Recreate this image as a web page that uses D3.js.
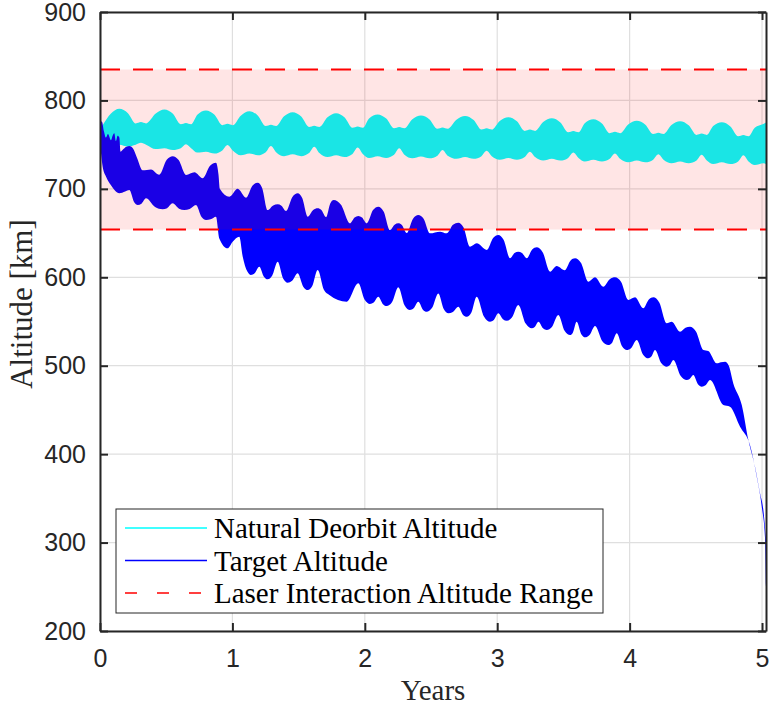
<!DOCTYPE html>
<html>
<head>
<meta charset="utf-8">
<script src="https://cdn.jsdelivr.net/npm/d3@7"></script>
<style>
  body { margin: 0; background: #fff; }
  svg { display: block; }
</style>
</head>
<body>
<div id="chart"></div>
<script>
// Natural deorbit altitude (cyan) - envelope
const cyanYears = [0.02, 0.081, 0.146, 0.211, 0.270, 0.309, 0.348, 0.421,
  0.486, 0.551, 0.610, 0.649, 0.688, 0.735,
  0.800, 0.865, 0.924, 0.963, 1.002, 1.063,
  1.128, 1.193, 1.252, 1.291, 1.330, 1.390,
  1.455, 1.520, 1.579, 1.618, 1.657, 1.718,
  1.783, 1.848, 1.907, 1.946, 1.985, 2.032,
  2.097, 2.162, 2.221, 2.260, 2.299, 2.359,
  2.424, 2.489, 2.548, 2.587, 2.626, 2.692,
  2.757, 2.822, 2.881, 2.920, 2.959, 3.019,
  3.084, 3.149, 3.208, 3.247, 3.286, 3.347,
  3.412, 3.477, 3.536, 3.575, 3.614, 3.661,
  3.726, 3.791, 3.850, 3.889, 3.928, 3.989,
  4.054, 4.119, 4.178, 4.217, 4.256, 4.316,
  4.381, 4.446, 4.505, 4.544, 4.583, 4.631,
  4.696, 4.761, 4.820, 4.859, 4.898, 4.945,
  5.010, 5.030];
const cyanUpper = [772, 785, 790.6, 785.6, 774, 775.5, 774, 785.1,
  789.8, 784.8, 773, 774.5, 773, 783.7,
  788.7, 783.7, 772, 773.5, 772, 782.8,
  787.9, 782.8, 771, 772.5, 771, 782,
  786.7, 781.7, 770, 771.5, 770, 780.9,
  785.6, 780.6, 769, 770.5, 769, 779.6,
  784.2, 779.5, 768.5, 770, 768.5, 778.7,
  783, 778.5, 768, 769.5, 768, 778.1,
  782.4, 777.8, 767, 768.5, 767, 776.8,
  781, 776.4, 765.5, 767, 765.5, 775.5,
  779.8, 775.1, 764, 765.5, 764, 774.3,
  778.7, 774, 763, 764.5, 763, 772.9,
  777.1, 772.6, 762, 763.5, 762, 772.1,
  776.4, 771.8, 761, 762.5, 761, 771,
  775.3, 770.6, 759.5, 761, 759.5, 769.2,
  773.4, 775];
const cyanLower = [758, 750, 750, 748, 750, 752, 750, 745,
  746, 744, 746, 750.4, 746, 741,
  742, 740, 743.5, 749.6, 743.5, 738,
  740, 738, 741.5, 748.5, 741.5, 737,
  739, 737, 740.5, 747.7, 740.5, 736,
  738, 736, 739.5, 746.8, 739.5, 735,
  737, 735, 738.5, 745.9, 738.5, 734.5,
  736.5, 734.5, 737.5, 744, 737.5, 734,
  736, 734, 737, 743, 737, 733,
  735, 733, 736, 742, 736, 732,
  734, 732, 735, 741, 735, 731,
  733, 731, 734, 740, 734, 730,
  732, 730, 733, 739, 733, 729,
  731, 729, 732, 738.5, 732, 728,
  730, 728, 731, 738, 731, 727,
  729, 728];

// Target altitude (blue) - upper and lower envelope
const blueUpperYears = [0, 0.015, 0.030, 0.045, 0.060, 0.083, 0.095, 0.108, 0.120, 0.133,
  0.146, 0.155, 0.170, 0.199, 0.222, 0.248, 0.280, 0.322, 0.385, 0.448,
  0.504, 0.549, 0.594, 0.650, 0.713, 0.776, 0.831, 0.876, 0.895, 0.905,
  0.977, 1.040, 1.103, 1.151, 1.191, 1.225, 1.266, 1.308, 1.342, 1.370,
  1.405, 1.453, 1.493, 1.527, 1.569, 1.610, 1.644, 1.672, 1.707, 1.739,
  1.765, 1.820, 1.888, 1.923, 1.951, 1.979, 2.014, 2.062, 2.102, 2.142,
  2.190, 2.225, 2.253, 2.281, 2.316, 2.364, 2.404, 2.444, 2.492, 2.568,
  2.618, 2.666, 2.706, 2.746, 2.795, 2.845, 2.921, 2.969, 3.008, 3.048,
  3.097, 3.131, 3.159, 3.187, 3.223, 3.264, 3.298, 3.343, 3.399, 3.449,
  3.510, 3.553, 3.588, 3.633, 3.688, 3.739, 3.801, 3.850, 3.890, 3.935,
  3.990, 4.041, 4.103, 4.145, 4.179, 4.224, 4.280, 4.318, 4.381, 4.422,
  4.456, 4.501, 4.557, 4.594, 4.658, 4.690, 4.721, 4.749, 4.783, 4.847,
  4.897, 4.947, 4.985, 5.010, 5.030];
const blueUpper = [776.7, 776, 765, 758, 762, 755, 760, 763, 754, 760,
  758, 742, 744, 747.6, 748.5, 745.8, 735, 721, 722, 716,
  732.8, 737, 732.7, 715.7, 718.7, 712, 726, 729.6, 716, 700,
  691, 700, 690, 703.6, 707, 700.8, 676, 681.2, 682.5, 681,
  675, 690.9, 694.9, 689.6, 668.5, 676.1, 678, 676, 668, 683.5,
  687.4, 682.1, 661, 667.6, 669.3, 667.6, 661, 676, 679.8, 674.5,
  653.5, 659.5, 661, 658.8, 650, 666.3, 670.4, 666.3, 649.7, 651.6,
  649.7, 659.3, 661.7, 656.3, 634.6, 638.4, 630.9, 644.4, 647.8, 642.5,
  621.5, 627.5, 629, 627.5, 621.5, 631.4, 633.9, 628.4, 606.4, 612.8,
  608, 618.8, 621.5, 616.2, 595, 600, 589.4, 597.9, 600, 594.9,
  574.3, 577.3, 564.9, 574.8, 577.3, 571.4, 548, 549.8, 538.5, 543,
  544.1, 538.8, 517.8, 516.7, 502.7, 504, 504.6, 500, 480, 455.6,
  416, 385.8, 355.7, 336.8, 302.9];
const blueLowerYears = [0, 0.008, 0.020, 0.045, 0.083, 0.146, 0.190, 0.222, 0.257, 0.285,
  0.313, 0.347, 0.416, 0.473, 0.507, 0.549, 0.597, 0.637, 0.677, 0.725,
  0.767, 0.801, 0.835, 0.876, 0.901, 0.964, 1.002, 1.052, 1.078, 1.112,
  1.140, 1.168, 1.203, 1.238, 1.266, 1.300, 1.342, 1.383, 1.417, 1.451,
  1.493, 1.535, 1.569, 1.603, 1.644, 1.692, 1.732, 1.863, 1.951, 1.999,
  2.039, 2.067, 2.102, 2.137, 2.165, 2.205, 2.253, 2.301, 2.341, 2.369,
  2.404, 2.439, 2.467, 2.507, 2.555, 2.597, 2.631, 2.665, 2.706, 2.741,
  2.770, 2.804, 2.845, 2.901, 2.946, 2.974, 3.008, 3.043, 3.072, 3.111,
  3.159, 3.215, 3.261, 3.283, 3.311, 3.346, 3.374, 3.413, 3.461, 3.510,
  3.550, 3.572, 3.600, 3.635, 3.663, 3.697, 3.739, 3.794, 3.839, 3.868,
  3.903, 3.944, 3.978, 4.012, 4.054, 4.102, 4.141, 4.164, 4.192, 4.240,
  4.280, 4.303, 4.330, 4.386, 4.431, 4.453, 4.481, 4.516, 4.545, 4.573,
  4.607, 4.708, 4.758, 4.834, 4.909, 4.960, 4.998, 5.023, 5.030];
const blueLower = [751.5, 740, 725, 714, 704, 695, 697, 698.7, 685.2, 681.8,
  683.3, 689.3, 679.4, 676.9, 678.2, 683.6, 677.6, 676.1, 677.2, 681.8,
  668.2, 664.8, 665.5, 668.5, 644, 632.8, 640.3, 645.9, 623.3, 606.7,
  602.6, 604.5, 612, 600.6, 597.7, 601.7, 617.6, 598.6, 593.9, 596,
  604.5, 589.4, 585.6, 590.1, 608.2, 585.6, 580, 572.4, 593.2, 574.5,
  569.8, 571.4, 578, 569.6, 567.5, 571.7, 588.7, 568.1, 563, 564.9,
  572.4, 563.4, 561.1, 565.2, 581.8, 563.8, 559.3, 560.8, 566.8, 557.7,
  555.4, 559.9, 578, 555.4, 549.8, 551.7, 559.3, 552.6, 550.9, 554.4,
  568.6, 547.6, 542.3, 543.8, 549.8, 542.3, 540.4, 543.8, 557.3, 539.2,
  534.7, 537.7, 549.8, 535.6, 532.1, 534.7, 545, 527.7, 523.4, 526.1,
  536.7, 521.6, 517.8, 520.1, 529.1, 512.5, 508.4, 510.3, 517.8, 502.7,
  498.9, 500.4, 506.5, 488.3, 483.8, 485, 489.5, 479, 476.3, 477.8,
  483.8, 455.6, 453.7, 431.1, 410.4, 374.5, 340.6, 304.7, 250];

// Laser interaction range
const laserRange = [654, 835];

const xTicks = [0, 1, 2, 3, 4, 5];
const yTicks = [200, 300, 400, 500, 600, 700, 800, 900];
const legendLabels = ["Natural Deorbit Altitude", "Target Altitude", "Laser Interaction Altitude Range"];

// layout
const W = 769, H = 705;
const mleft = 100, mright = 3, mtop = 12, mbottom = 74;
const width = W - mleft - mright, height = H - mtop - mbottom;

const svg = d3.select("#chart").append("svg")
  .attr("width", W).attr("height", H);

const x = d3.scaleLinear().domain([0, 5.03]).range([0, width]);
const y = d3.scaleLinear().domain([200, 900]).range([height, 0]);

const g = svg.append("g").attr("transform", `translate(${mleft},${mtop})`);

g.append("clipPath").attr("id", "clip")
  .append("rect").attr("width", width).attr("height", height);

// grid
g.append("g").attr("class", "grid")
  .selectAll("line").data(xTicks).join("line")
  .attr("x1", d => x(d)).attr("x2", d => x(d)).attr("y1", 0).attr("y2", height)
  .attr("stroke", "#dfdfdf").attr("stroke-width", 1.2);
g.append("g").attr("class", "grid")
  .selectAll("line").data(yTicks).join("line")
  .attr("y1", d => y(d)).attr("y2", d => y(d)).attr("x1", 0).attr("x2", width)
  .attr("stroke", "#dfdfdf").attr("stroke-width", 1.2);

// band between two envelopes: both curves closed down to the bottom, xor'ed by evenodd
const env = d3.line().x(d => x(d[0])).y(d => y(d[1])).curve(d3.curveMonotoneX);
function closedToBottom(xs, vs) {
  const p = env(d3.zip(xs, vs));
  return p + `L${x(xs[xs.length - 1])},${height + 50}L${x(xs[0])},${height + 50}Z`;
}
function bandPath(uy, uv, ly, lv) {
  return closedToBottom(uy, uv) + closedToBottom(ly, lv);
}

const plot = g.append("g").attr("clip-path", "url(#clip)");

plot.append("path")
  .attr("d", bandPath(cyanYears, cyanUpper, cyanYears, cyanLower))
  .attr("fill-rule", "evenodd")
  .attr("fill", "#00ffff");

plot.append("path")
  .attr("d", bandPath(blueUpperYears, blueUpper, blueLowerYears, blueLower))
  .attr("fill-rule", "evenodd")
  .attr("fill", "#0000ff");

// translucent laser range patch
plot.append("rect")
  .attr("x", 0).attr("width", width)
  .attr("y", y(laserRange[1])).attr("height", y(laserRange[0]) - y(laserRange[1]))
  .attr("fill", "#ff0000").attr("fill-opacity", 0.1);

plot.selectAll("line.laser").data(laserRange).join("line")
  .attr("class", "laser")
  .attr("x1", 0).attr("x2", width)
  .attr("y1", d => y(d)).attr("y2", d => y(d))
  .attr("stroke", "#ff0000").attr("stroke-width", 2)
  .attr("stroke-dasharray", "20,13");

// axes (ticks inward, box on)
const axisColor = "#262626";
const tickFont = "'Liberation Sans', Arial, sans-serif";

const xAxis = g.append("g").attr("transform", `translate(0,${height})`)
  .call(d3.axisBottom(x).tickValues(xTicks).tickFormat(d3.format("d"))
    .tickSizeInner(-8).tickSizeOuter(0).tickPadding(18));
const yAxis = g.append("g")
  .call(d3.axisLeft(y).tickValues(yTicks).tickFormat(d3.format("d"))
    .tickSizeInner(-8).tickSizeOuter(0).tickPadding(14));
const xTop = g.append("g")
  .call(d3.axisTop(x).tickValues(xTicks).tickSizeInner(-8).tickSizeOuter(0).tickFormat(""));
const yRight = g.append("g").attr("transform", `translate(${width},0)`)
  .call(d3.axisRight(y).tickValues(yTicks).tickSizeInner(-8).tickSizeOuter(0).tickFormat(""));

for (const a of [xAxis, yAxis, xTop, yRight]) {
  a.select(".domain").attr("stroke", axisColor).attr("stroke-width", 2);
  a.selectAll(".tick line").attr("stroke", axisColor).attr("stroke-width", 2);
  a.selectAll(".tick text").attr("fill", axisColor)
    .style("font-family", tickFont).style("font-size", "25px");
}

// axis labels
const serif = "'Liberation Serif', 'Times New Roman', serif";
svg.append("text")
  .attr("x", mleft + width / 2).attr("y", 700)
  .attr("text-anchor", "middle")
  .style("font-family", serif).style("font-size", "29px")
  .attr("fill", axisColor)
  .text("Years");

svg.append("text")
  .attr("transform", `translate(32,304) rotate(-90)`)
  .attr("text-anchor", "middle")
  .style("font-family", serif).style("font-size", "31px")
  .attr("fill", axisColor)
  .text("Altitude [km]");

// legend
const leg = svg.append("g").attr("transform", "translate(116,509)");
leg.append("rect").attr("width", 487).attr("height", 104)
  .attr("fill", "#fff").attr("stroke", axisColor).attr("stroke-width", 1);

const legendColors = ["#00ffff", "#0000ff", "#ff0000"];
const legendDash = [null, null, "12,20"];
const rows = leg.selectAll("g.row").data(legendLabels).join("g")
  .attr("class", "row")
  .attr("transform", (d, i) => `translate(0,${19 + i * 32.5})`);
rows.append("line")
  .attr("x1", 9).attr("x2", 91)
  .attr("stroke", (d, i) => legendColors[i])
  .attr("stroke-width", 1.3)
  .attr("stroke-dasharray", (d, i) => legendDash[i]);
rows.append("text")
  .attr("x", 98).attr("dy", "0.35em")
  .style("font-family", serif).style("font-size", "29px")
  .attr("fill", "#000")
  .text(d => d);
</script>
</body>
</html>
